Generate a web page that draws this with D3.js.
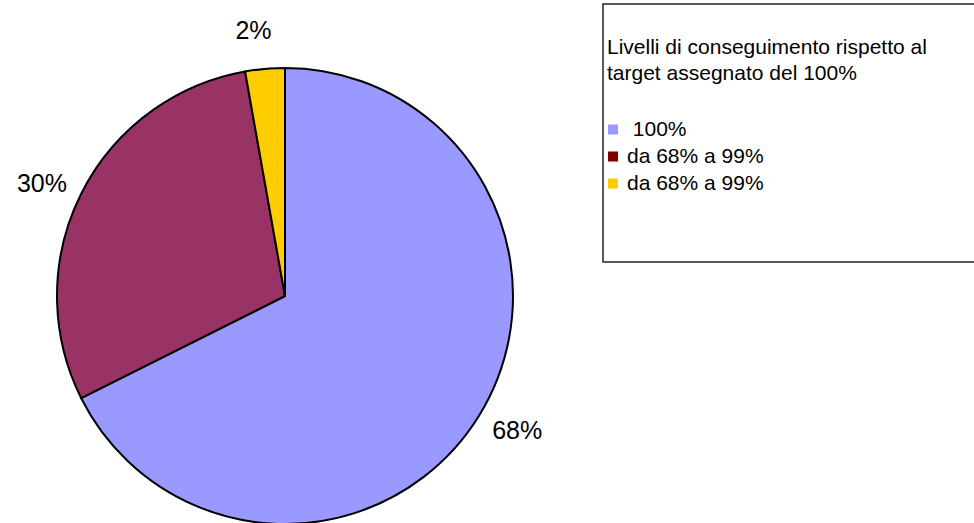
<!DOCTYPE html>
<html><head><meta charset="utf-8">
<script src="https://cdn.jsdelivr.net/npm/d3@7/dist/d3.min.js"></script>
<style>body{margin:0;background:#fff;}svg{display:block;font-family:Arial,"Liberation Sans",sans-serif;}</style>
</head><body>
<svg id="c" width="974" height="523"></svg>
<script>
const categories = ["100%", "da 68% a 99%", "da 68% a 99%"];
const legendNames = [" 100%", "da 68% a 99%", "da 68% a 99%"];
const values = [67.6, 29.6, 2.8];
const valueLabels = ["68%", "30%", "2%"];
const sliceColors = ["#9999FF", "#993366", "#FFCC00"];
const legendColors = ["#9999FF", "#800000", "#FFCC00"];
const legendTitle = ["Livelli di conseguimento rispetto al", "target assegnato del 100%"];

const svg = d3.select("#c");
const cx = 285, cy = 296, R = 228;
const pie = d3.pie().sort(null).value(d => d)(values);
const arc = d3.arc().innerRadius(0).outerRadius(R);
const g = svg.append("g").attr("transform", `translate(${cx},${cy})`);
g.selectAll("path").data(pie).join("path")
  .attr("d", arc).attr("fill", (d,i) => sliceColors[i])
  .attr("stroke", "#000").attr("stroke-width", 2).attr("stroke-linejoin","round");
g.selectAll("text").data(pie).join("text")
  .attr("transform", d => {
    // Excel-style: label placed slightly before the slice midpoint
    const a = (d.startAngle + d.endAngle) / 2 - 0.03;
    const r = 268;
    return `translate(${r*Math.sin(a)},${-r*Math.cos(a)})`;
  })
  .attr("text-anchor", "middle").attr("dy", "0.36em")
  .attr("font-size", 25).attr("fill", "#000")
  .text((d,i) => valueLabels[i]);

// legend
const lg = svg.append("g");
lg.append("rect").attr("x", 603).attr("y", 4).attr("width", 372).attr("height", 258)
  .attr("fill", "#fff").attr("stroke", "#222").attr("stroke-width", 1.5);
lg.selectAll("text.t").data(legendTitle).join("text").attr("class","t")
  .attr("x", 607).attr("y", (d,i) => 54 + i*26).attr("font-size", 21).attr("fill","#000")
  .text(d => d);
const rows = lg.selectAll("g.r").data(categories).join("g").attr("class","r")
  .attr("transform", (d,i) => `translate(608,${129.5 + i*27})`);
rows.append("rect").attr("x", 0).attr("y", -5).attr("width", 10).attr("height", 10)
  .attr("fill", (d,i) => legendColors[i]);
rows.append("text").attr("x", 19).attr("y", 6.5).attr("font-size", 21)
  .attr("xml:space","preserve").style("white-space","pre")
  .text((d,i) => legendNames[i]);
</script>
</body></html>
